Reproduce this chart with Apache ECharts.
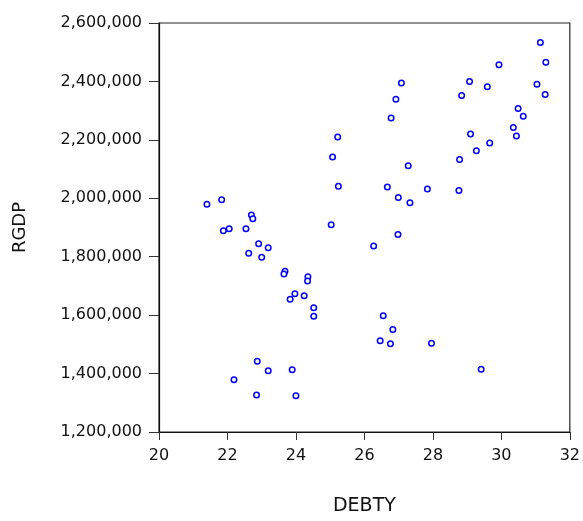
<!DOCTYPE html>
<html>
<head>
<meta charset="utf-8">
<script src="https://cdn.jsdelivr.net/npm/echarts@6/dist/echarts.min.js"></script>
<style>html,body{margin:0;padding:0;background:#fff}#c{width:583px;height:521px}</style>
</head>
<body>
<div id="c"></div>
<script>
var debty = [25.22,25.07,25.24,21.40,21.83,22.70,22.74,25.03,22.54,22.05,21.88,22.91,23.19,22.62,23.00,23.68,23.65,24.35,24.34,23.97,24.24,23.83,24.52,24.52,22.87,23.19,23.89,22.19,22.85,24.00,
31.14,31.30,29.93,27.08,29.07,29.59,31.04,31.28,28.84,26.92,26.78,30.49,30.64,30.35,30.44,29.10,29.66,29.27,28.78,27.28,26.67,27.84,26.99,27.33,28.76,
26.98,26.27,26.55,26.83,26.46,26.76,27.96,29.41];
var rgdp = [2210000,2141000,2041000,1980000,1995000,1943000,1930000,1909000,1896000,1896000,1889000,1844000,1831000,1812000,1798000,1750000,1741000,1731000,1717000,1673000,1666000,1654000,1625000,1596000,1442000,1410000,1413000,1379000,1327000,1324000,
2533000,2466000,2457000,2395000,2400000,2382000,2390000,2355000,2352000,2339000,2275000,2307000,2281000,2242000,2213000,2220000,2189000,2163000,2133000,2111000,2039000,2032000,2003000,1985000,2027000,
1876000,1837000,1598000,1551000,1512000,1502000,1504000,1415000];
var xName = 'DEBTY', yName = 'RGDP';
var xMin = 20, xMax = 32, xStep = 2;
var yMin = 1200000, yMax = 2600000, yStep = 200000;

var pts = debty.map(function(v,i){return [v, rgdp[i]];});
var chart = echarts.init(document.getElementById('c'), null, {renderer:'canvas'});
var font = 'DejaVu Sans';
chart.setOption({
  animation:false,
  backgroundColor:'#fff',
  grid:{left:159,right:10,top:23,bottom:83,show:true,borderColor:'#222',borderWidth:1.2,backgroundColor:'transparent'},
  xAxis:{type:'value',min:xMin,max:xMax,interval:xStep,
    name:xName,nameLocation:'middle',nameGap:65,
    nameTextStyle:{fontFamily:font,fontSize:19,color:'#111'},
    axisLine:{show:true,onZero:false,lineStyle:{color:'#111',width:1.2}},
    axisTick:{show:true,inside:false,length:8,lineStyle:{color:'#333'}},
    axisLabel:{margin:16,fontFamily:font,fontSize:16,color:'#111'},
    splitLine:{show:false}},
  yAxis:{type:'value',min:yMin,max:yMax,interval:yStep,
    name:yName,nameLocation:'middle',nameGap:130,nameRotate:90,
    nameTextStyle:{fontFamily:font,fontSize:18,color:'#111'},
    axisLine:{show:true,onZero:false,lineStyle:{color:'#111',width:1.2}},
    axisTick:{show:true,inside:false,length:10,lineStyle:{color:'#333'}},
    axisLabel:{margin:17,fontFamily:font,fontSize:16,color:'#111',
      formatter:function(v){return v.toString().replace(/\B(?=(\d{3})+(?!\d))/g, ',');}},
    splitLine:{show:false}},
  series:[{type:'scatter',data:pts,symbol:'circle',symbolSize:5.5,
    itemStyle:{color:'#fff',borderColor:'#0000ff',borderWidth:1.5,opacity:1}}]
});
</script>
</body>
</html>
